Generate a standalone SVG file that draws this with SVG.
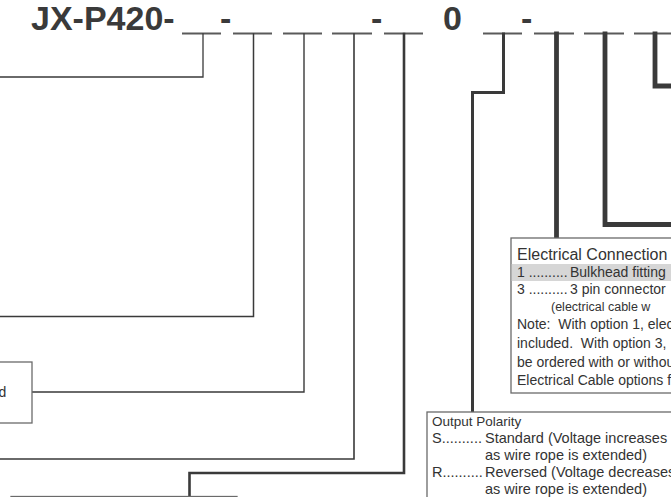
<svg xmlns="http://www.w3.org/2000/svg" width="671" height="497" viewBox="0 0 671 497">
<style>
text{font-family:"Liberation Sans",Arial,sans-serif;fill:#333}
.title{font-size:34px;font-weight:bold;fill:#3a3a3a}
.ul{stroke:#5a5a5a;stroke-width:2;fill:none}
.c{stroke:#3a3a3a;fill:none;stroke-linejoin:miter;stroke-linecap:square}
.box{fill:#fff;stroke:#6a6a6a;stroke-width:1.3}
.t14{font-size:14px}
.t13{font-size:12.5px}
.op{font-size:14.5px}
</style>
<rect width="671" height="497" fill="#fff"/>
<g id="part-number">
<text class="title" x="31" y="30">JX-P420-</text>
<text class="title" x="220" y="30">-</text>
<text class="title" x="371" y="30">-</text>
<text class="title" x="443" y="30">0</text>
<text class="title" x="521" y="30">-</text>
<g class="ul">
<line x1="182" y1="33.5" x2="221" y2="33.5"/>
<line x1="233" y1="33.5" x2="272" y2="33.5"/>
<line x1="283" y1="33.5" x2="322" y2="33.5"/>
<line x1="332" y1="33.5" x2="372" y2="33.5"/>
<line x1="384" y1="33.5" x2="423" y2="33.5"/>
<line x1="483" y1="33.5" x2="522" y2="33.5"/>
<line x1="534" y1="33.5" x2="574" y2="33.5"/>
<line x1="584" y1="33.5" x2="624" y2="33.5"/>
<line x1="634" y1="33.5" x2="671" y2="33.5"/>
</g>
</g>
<g id="connectors">
<path class="c" d="M203,34 V77 H-2" stroke-width="1.3"/>
<path class="c" d="M253.5,34 V316.5 H-2" stroke-width="1.5"/>
<path class="c" d="M304,34 V392 H32" stroke-width="1.4"/>
<path class="c" d="M354,34 V459 H-2" stroke-width="1.6"/>
<path class="c" d="M404,34 V473 H189.5 V496" stroke-width="2.6"/>
<path class="c" d="M503.5,34 V92.5 H472.5 V412" stroke-width="3"/>
<path class="c" d="M556.5,34 V238" stroke-width="4.8" stroke-linecap="butt"/>
<path class="c" d="M605,34 V224.5 H673" stroke-width="4.8"/>
<path class="c" d="M655,34 V86 H673" stroke-width="4.8"/>
</g>
<g id="node-left">
<rect class="box" x="-5" y="362" width="37" height="61"/>
<text class="t14" x="-1.5" y="397">d</text>
</g>
<g id="node-bottom">
<rect class="box" x="11" y="496.5" width="226" height="30"/>
</g>
<g id="electrical-connection">
<rect class="box" x="511" y="238" width="170" height="155"/>
<rect x="511.7" y="264" width="160" height="17" fill="#d6d6d6"/>
<text x="517" y="260" font-size="16">Electrical Connection</text>
<text class="t14" x="517" y="277">1 ..........</text>
<text class="t14" x="570" y="277">Bulkhead fitting</text>
<text class="t14" x="517" y="294">3 ..........</text>
<text class="t14" x="570" y="294">3 pin connector</text>
<text class="t13" x="551" y="311">(electrical cable w</text>
<text class="t14" x="517" y="329" xml:space="preserve">Note:  With option 1, elec</text>
<text class="t14" x="517" y="348" xml:space="preserve">included.  With option 3,</text>
<text class="t14" x="517" y="367">be ordered with or withou</text>
<text class="t14" x="517" y="385">Electrical Cable options f</text>
</g>
<g id="output-polarity">
<rect class="box" x="427" y="412" width="260" height="100"/>
<text x="432" y="426" font-size="13.5">Output Polarity</text>
<text class="op" x="432" y="443">S..........</text>
<text class="op" x="485" y="443">Standard (Voltage increases</text>
<text class="op" x="485" y="460">as wire rope is extended)</text>
<text class="op" x="432" y="477">R..........</text>
<text class="op" x="485" y="477">Reversed (Voltage decreases</text>
<text class="op" x="485" y="494">as wire rope is extended)</text>
</g>
</svg>
